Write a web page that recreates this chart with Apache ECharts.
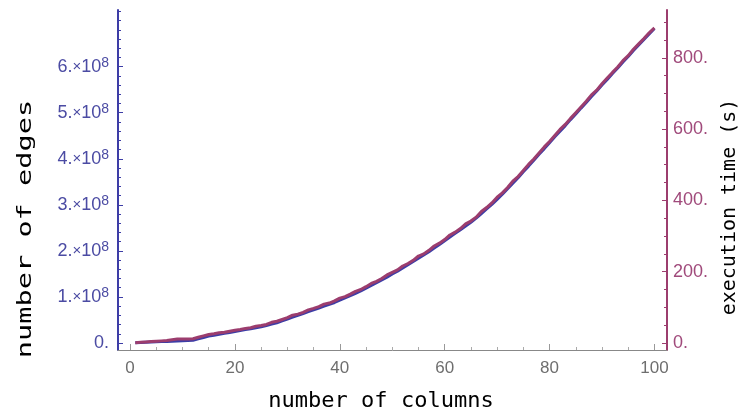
<!DOCTYPE html>
<html>
<head>
<meta charset="utf-8">
<script src="https://cdn.jsdelivr.net/npm/echarts@6/dist/echarts.min.js"></script>
<style>
  html, body { margin: 0; padding: 0; background: #fff; }
  #chart { width: 744px; height: 414px; }
</style>
</head>
<body>
<div id="chart"></div>
<script>
// number of columns (x)
var columns = [1,2,3,4,5,6,7,8,9,10,11,12,13,14,15,16,17,18,19,20,
  21,22,23,24,25,26,27,28,29,30,31,32,33,34,35,36,37,38,39,40,
  41,42,43,44,45,46,47,48,49,50,51,52,53,54,55,56,57,58,59,60,
  61,62,63,64,65,66,67,68,69,70,71,72,73,74,75,76,77,78,79,80,
  81,82,83,84,85,86,87,88,89,90,91,92,93,94,95,96,97,98,99,100];

// number of edges, in millions
var edgesM = [0.5,1,1.5,2,2.5,3,3.5,4,4.5,5,5.5,6,9,12,15,17,19,21,23,25,
  27,29,31,33,35,38,41,44,48,52,56,60,64,68,72,76,80,84,88,93,
  98,103,108,113,119,125,131,137,143,150,156,163,170,177,184,191,198,206,214,222,
  230,238,246,254,262,271,281,291,301,312,323,335,347,359,372,384,397,410,422,435,
  448,460,472,485,497,510,522,535,547,560,572,585,597,610,622,635,647,659,671,683];

// execution time in seconds
var execTime = [1,2,3,4,5,6,7,9,11,11,11,12,16,20,24,26,29,30,33,36,
  38,41,43,47,49,52,58,61,66,71,78,81,86,93,97,102,109,112,118,126,
  130,137,145,150,158,167,173,181,191,198,205,216,223,232,244,250,260,272,280,290,
  303,311,321,334,342,353,369,380,393,409,421,436,454,467,484,501,516,533,550,565,
  582,599,613,630,646,662,678,696,709,727,743,759,774,792,806,824,839,854,870,884];

var xMajor = [0, 20, 40, 60, 80, 100];
var xMinor = [5, 10, 15, 25, 30, 35, 45, 50, 55, 65, 70, 75, 85, 90, 95];
var edgeMajor = [0, 1e8, 2e8, 3e8, 4e8, 5e8, 6e8];
var edgeMinor = [0.2e8,0.4e8,0.6e8,0.8e8,1.2e8,1.4e8,1.6e8,1.8e8,2.2e8,2.4e8,2.6e8,2.8e8,
  3.2e8,3.4e8,3.6e8,3.8e8,4.2e8,4.4e8,4.6e8,4.8e8,5.2e8,5.4e8,5.6e8,5.8e8,6.2e8,6.4e8,6.6e8,6.8e8,7e8,7.2e8];
var timeMajor = [0, 200, 400, 600, 800];
var timeMinor = [50,100,150,250,300,350,450,500,550,650,700,750,850,900];

var blue = '#3d3da6';
var blueText = '#4b4ba3';
var purple = '#9c3d6e';
var purpleText = '#a04a7b';

var edgeData = columns.map(function (c, i) { return [c, edgesM[i] * 1e6]; });
var timeData = columns.map(function (c, i) { return [c, execTime[i]]; });

var chart = echarts.init(document.getElementById('chart'));

var option = {
  animation: false,
  grid: { left: 118, right: 77, top: 10, bottom: 64, containLabel: false, outerBoundsMode: 'none' },
  textStyle: { fontFamily: 'Liberation Sans' },
  xAxis: [{
    type: 'value', min: -2.3, max: 102.4,
    splitLine: { show: false },
    axisLine: { onZero: false, lineStyle: { color: '#888', width: 1 } },
    axisTick: { inside: true, length: 6, customValues: xMajor, lineStyle: { color: '#999' } },
    axisLabel: { customValues: xMajor, color: '#6e6e6e', fontSize: 17, margin: 10 }
  }, {
    type: 'value', min: -2.3, max: 102.4, position: 'bottom',
    splitLine: { show: false },
    axisLine: { show: false, onZero: false },
    axisTick: { inside: true, length: 3, customValues: xMinor, lineStyle: { color: '#aaa' } },
    axisLabel: { show: false }
  }],
  yAxis: [{
    type: 'value', position: 'left', min: -15.2e6, max: 723e6,
    splitLine: { show: false },
    axisLine: { show: true, onZero: false, lineStyle: { color: blue, width: 2 } },
    axisTick: { inside: true, length: 5, customValues: edgeMajor, lineStyle: { color: blue } },
    axisLabel: {
      customValues: edgeMajor, margin: 9, color: blueText, fontSize: 18,
      formatter: function (v) {
        if (v === 0) return '0.';
        return Math.round(v / 1e8) + '.{x|×}10{s|8}';
      },
      rich: {
        x: { fontSize: 15, color: blueText },
        s: { fontSize: 14, color: blueText, verticalAlign: 'top', padding: [0, 0, 7, 0] }
      }
    }
  }, {
    type: 'value', position: 'left', min: -15.2e6, max: 723e6,
    splitLine: { show: false },
    axisLine: { show: false, onZero: false },
    axisTick: { inside: true, length: 3, customValues: edgeMinor, lineStyle: { color: blue } },
    axisLabel: { show: false }
  }, {
    type: 'value', position: 'right', min: -19.6, max: 934,
    splitLine: { show: false },
    axisLine: { show: true, onZero: false, lineStyle: { color: purple, width: 2 } },
    axisTick: { inside: true, length: 5, customValues: timeMajor, lineStyle: { color: purple } },
    axisLabel: {
      customValues: timeMajor, margin: 6, color: purpleText, fontSize: 18,
      formatter: function (v) { return v + '.'; }
    }
  }, {
    type: 'value', position: 'right', min: -19.6, max: 934,
    splitLine: { show: false },
    axisLine: { show: false, onZero: false },
    axisTick: { inside: true, length: 3, customValues: timeMinor, lineStyle: { color: purple } },
    axisLabel: { show: false }
  }],
  // axis titles
  graphic: [{
    type: 'text', x: 26, y: 229, rotation: Math.PI / 2, scaleX: 1.43,
    style: { text: 'number of edges', font: '20px "DejaVu Sans Mono"', fill: '#000',
      align: 'center', verticalAlign: 'middle' }
  }, {
    type: 'text', x: 730, y: 207, rotation: Math.PI / 2,
    style: { text: 'execution time (s)', font: '20px "DejaVu Sans Mono"', fill: '#000',
      align: 'center', verticalAlign: 'middle' }
  }, {
    type: 'text', x: 381, y: 402, scaleX: 1.05,
    style: { text: 'number of columns', font: '21px "DejaVu Sans Mono"', fill: '#000',
      align: 'center', verticalAlign: 'middle' }
  }],
  series: [{
    name: 'edges', type: 'line', xAxisIndex: 0, yAxisIndex: 0,
    data: edgeData, showSymbol: false,
    lineStyle: { color: blue, width: 3 }, z: 2
  }, {
    name: 'time', type: 'line', xAxisIndex: 0, yAxisIndex: 2,
    data: timeData, showSymbol: false,
    lineStyle: { color: purple, width: 3 }, z: 3
  }]
};

chart.setOption(option);
window.onresize = function () { chart.resize(); };
</script>
</body>
</html>
